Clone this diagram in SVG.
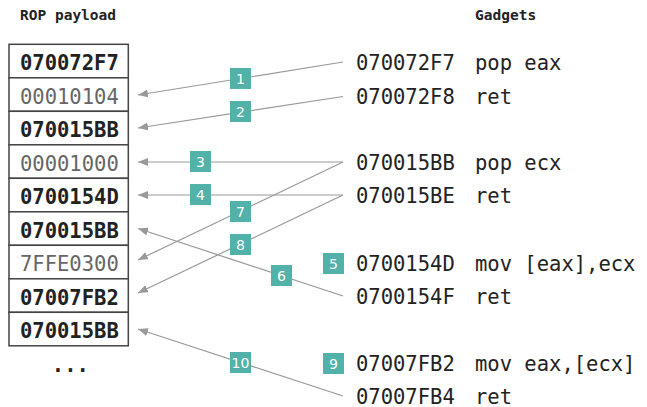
<svg xmlns="http://www.w3.org/2000/svg" width="647" height="407" viewBox="0 0 647 407">
<style>
.h{font-family:"DejaVu Sans Mono","Liberation Mono",monospace;font-size:14.5px;font-weight:bold;fill:#222}
.t{font-family:"DejaVu Sans Mono","Liberation Mono",monospace;font-size:20.5px}
.b{font-weight:bold;fill:#222}
.g{fill:#666}
.r{fill:#222}
.cell{fill:#fff;stroke:#444;stroke-width:1.5}
.lbl rect{fill:#52b1a9}
.lbl text{font-family:"DejaVu Sans","Liberation Sans",sans-serif;font-size:14px;fill:#fff;text-anchor:middle}
.c{stroke:#999;stroke-width:1.2;fill:none;marker-end:url(#ah)}
</style>
<defs>
<marker id="ah" markerWidth="12" markerHeight="10" refX="10" refY="4" orient="auto" markerUnits="userSpaceOnUse">
<path d="M0,0 L10,4 L0,8 Z" fill="#999"/>
</marker>
</defs>
<rect width="647" height="407" fill="#fff"/>
<text class="h" x="20" y="20">ROP payload</text>
<text class="h" x="475" y="20">Gadgets</text>

<g id="payload">
<rect class="cell" x="9" y="44.3" width="119.3" height="33.5"/>
<rect class="cell" x="9" y="77.8" width="119.3" height="33.5"/>
<rect class="cell" x="9" y="111.3" width="119.3" height="33.5"/>
<rect class="cell" x="9" y="144.8" width="119.3" height="33.5"/>
<rect class="cell" x="9" y="178.3" width="119.3" height="33.5"/>
<rect class="cell" x="9" y="211.8" width="119.3" height="33.5"/>
<rect class="cell" x="9" y="245.3" width="119.3" height="33.5"/>
<rect class="cell" x="9" y="278.8" width="119.3" height="33.5"/>
<rect class="cell" x="9" y="312.3" width="119.3" height="33.5"/>
<text class="t b" x="20" y="70">070072F7</text>
<text class="t g" x="20" y="103.5">00010104</text>
<text class="t b" x="20" y="137">070015BB</text>
<text class="t g" x="20" y="170.5">00001000</text>
<text class="t b" x="20" y="204">0700154D</text>
<text class="t b" x="20" y="237.5">070015BB</text>
<text class="t g" x="20" y="271">7FFE0300</text>
<text class="t b" x="20" y="304.5">07007FB2</text>
<text class="t b" x="20" y="338">070015BB</text>
<text class="t b" x="51.8" y="372">...</text>
</g>

<g id="gadgets">
<text class="t r" x="356" y="70">070072F7</text><text class="t r" x="475" y="70">pop eax</text>
<text class="t r" x="356" y="103.5">070072F8</text><text class="t r" x="475" y="103.5">ret</text>
<text class="t r" x="356" y="170">070015BB</text><text class="t r" x="475" y="170">pop ecx</text>
<text class="t r" x="356" y="203">070015BE</text><text class="t r" x="475" y="203">ret</text>
<text class="t r" x="356" y="270.5">0700154D</text><text class="t r" x="475" y="270.5">mov [eax],ecx</text>
<text class="t r" x="356" y="303.5">0700154F</text><text class="t r" x="475" y="303.5">ret</text>
<text class="t r" x="356" y="370.5">07007FB2</text><text class="t r" x="475" y="370.5">mov eax,[ecx]</text>
<text class="t r" x="356" y="403.5">07007FB4</text><text class="t r" x="475" y="403.5">ret</text>
</g>

<g id="connectors">
<line class="c" x1="343" y1="62" x2="138" y2="95"/>
<line class="c" x1="343" y1="96.5" x2="138" y2="128"/>
<line class="c" x1="343" y1="162" x2="138" y2="162"/>
<line class="c" x1="343" y1="195" x2="138" y2="195"/>
<line class="c" x1="343" y1="296" x2="138" y2="228.5"/>
<line class="c" x1="343" y1="162" x2="138" y2="260"/>
<line class="c" x1="343" y1="195" x2="138" y2="293"/>
<line class="c" x1="343" y1="396" x2="138" y2="329"/>
</g>

<g id="label1" class="lbl"><rect x="230" y="68" width="21" height="21"/><text x="240.5" y="83.5">1</text></g>
<g id="label2" class="lbl"><rect x="230" y="101" width="21" height="21"/><text x="240.5" y="116.5">2</text></g>
<g id="label3" class="lbl"><rect x="190" y="151" width="21" height="21"/><text x="200.5" y="166.5">3</text></g>
<g id="label4" class="lbl"><rect x="190" y="184" width="21" height="21"/><text x="200.5" y="199.5">4</text></g>
<g id="label5" class="lbl"><rect x="323" y="253" width="21" height="21"/><text x="333.5" y="268.5">5</text></g>
<g id="label6" class="lbl"><rect x="271" y="265" width="21" height="21"/><text x="281.5" y="280.5">6</text></g>
<g id="label7" class="lbl"><rect x="230" y="201" width="21" height="21"/><text x="240.5" y="216.5">7</text></g>
<g id="label8" class="lbl"><rect x="230" y="234" width="21" height="21"/><text x="240.5" y="249.5">8</text></g>
<g id="label9" class="lbl"><rect x="323" y="353" width="21" height="21"/><text x="333.5" y="368.5">9</text></g>
<g id="label10" class="lbl"><rect x="230" y="352" width="21" height="21"/><text x="240.5" y="367.5">10</text></g>
</svg>
